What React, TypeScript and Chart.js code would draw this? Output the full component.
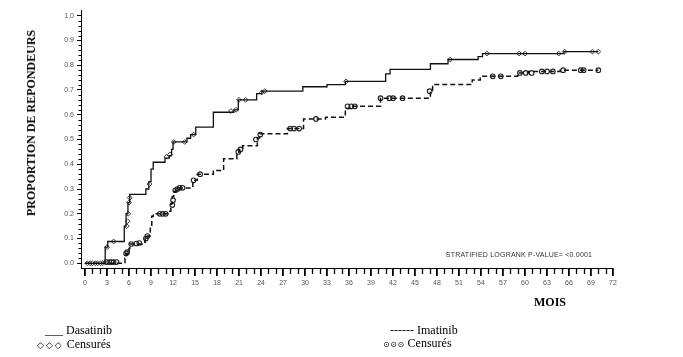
import React, { useEffect, useRef } from "react";
import { Chart, registerables } from "chart.js";

Chart.register(...registerables);

// ---- data ----
const xTicks = [0, 3, 6, 9, 12, 15, 18, 21, 24, 27, 30, 33, 36, 39, 42, 45, 48, 51, 54, 57, 60, 63, 66, 69, 72];
const yTicks = [0, 0.1, 0.2, 0.3, 0.4, 0.5, 0.6, 0.7, 0.8, 0.9, 1.0];

const dasatinibMonths = [0, 2.75, 3.1, 5.35, 5.6, 5.85, 6.1, 8.3, 8.7, 9.0, 9.3, 10.9, 11.5, 11.8, 12.0, 13.9, 14.4, 15.1, 17.5, 20.3, 20.9, 23.4, 24.1, 29.7, 33.0, 35.5, 41.0, 41.6, 47.1, 49.5, 53.6, 54.2, 65.3, 70.0];
const dasatinibValues = [0, 0.065, 0.088, 0.15, 0.2, 0.245, 0.278, 0.3, 0.33, 0.38, 0.408, 0.425, 0.435, 0.46, 0.49, 0.505, 0.52, 0.55, 0.61, 0.62, 0.66, 0.685, 0.695, 0.713, 0.722, 0.735, 0.765, 0.783, 0.806, 0.823, 0.835, 0.847, 0.855, 0.855];

const imatinibMonths = [0, 5.45, 5.6, 6.0, 6.1, 7.9, 8.2, 8.5, 8.9, 9.1, 9.3, 11.4, 11.7, 11.9, 12.1, 12.4, 14.7, 15.3, 17.5, 18.9, 20.7, 21.0, 21.5, 23.5, 23.8, 27.6, 29.8, 32.8, 35.5, 36.2, 40.3, 47.1, 47.4, 52.8, 53.9, 59.0, 60.5, 64.8, 70.0];
const imatinibValues = [0, 0.02, 0.04, 0.06, 0.078, 0.085, 0.1, 0.11, 0.15, 0.19, 0.2, 0.21, 0.24, 0.27, 0.29, 0.304, 0.335, 0.36, 0.375, 0.422, 0.448, 0.46, 0.475, 0.506, 0.523, 0.544, 0.583, 0.59, 0.625, 0.634, 0.667, 0.695, 0.722, 0.74, 0.755, 0.769, 0.775, 0.78, 0.78];

const dasatinibCensorMonths = [0.3, 0.7, 1.0, 1.4, 1.7, 2.1, 2.4, 3.0, 3.9, 5.7, 5.8, 5.9, 6.0, 6.1, 8.8, 11.1, 11.6, 12.1, 13.6, 14.8, 19.9, 20.6, 21.0, 21.9, 24.1, 24.5, 35.6, 49.8, 54.8, 59.2, 60.0, 64.6, 65.4, 69.2, 70.0];
const dasatinibCensorValues = [0, 0, 0, 0, 0, 0, 0, 0.065, 0.088, 0.15, 0.17, 0.2, 0.245, 0.265, 0.32, 0.43, 0.44, 0.49, 0.49, 0.52, 0.615, 0.62, 0.66, 0.66, 0.69, 0.695, 0.735, 0.823, 0.847, 0.847, 0.847, 0.847, 0.855, 0.855, 0.855];

const imatinibCensorMonths = [2.9, 3.3, 3.6, 3.9, 4.3, 5.6, 5.75, 6.3, 7.0, 7.4, 8.3, 8.5, 10.2, 10.6, 11.0, 11.9, 12.0, 12.3, 12.6, 12.9, 13.3, 14.8, 15.7, 20.9, 21.2, 23.3, 23.9, 28.0, 28.5, 29.2, 31.5, 35.8, 36.3, 36.8, 40.3, 41.5, 42.0, 43.3, 47.0, 55.6, 56.7, 59.3, 60.1, 60.9, 62.3, 63.0, 63.8, 65.2, 67.6, 68.0, 70.0];
const imatinibCensorValues = [0.005, 0.005, 0.005, 0.005, 0.005, 0.04, 0.045, 0.078, 0.08, 0.082, 0.1, 0.11, 0.2, 0.2, 0.2, 0.235, 0.255, 0.295, 0.3, 0.305, 0.305, 0.335, 0.36, 0.45, 0.46, 0.5, 0.52, 0.544, 0.544, 0.544, 0.583, 0.634, 0.634, 0.634, 0.667, 0.667, 0.667, 0.667, 0.695, 0.755, 0.755, 0.769, 0.769, 0.769, 0.775, 0.775, 0.775, 0.78, 0.78, 0.78, 0.78];

const zip = (xs: number[], ys: number[]) => xs.map((x, i) => ({ x, y: ys[i] }));

const minorTicksPlugin = {
  id: "minorTicks",
  afterDraw(chart: any) {
    const { ctx, chartArea } = chart;
    const xs = chart.scales.x;
    const ys = chart.scales.y;
    ctx.save();
    ctx.strokeStyle = "#000";
    ctx.lineWidth = 1.3;
    for (let m = 0; m <= 72; m++) {
      if (m % 3 === 0) continue;
      const px = Math.round(xs.getPixelForValue(m)) + 0.5;
      ctx.beginPath();
      ctx.moveTo(px, chartArea.bottom + 1);
      ctx.lineTo(px, chartArea.bottom + 6);
      ctx.stroke();
    }
    ctx.lineWidth = 1;
    for (let i = 0; i <= 50; i++) {
      if (i % 5 === 0) continue;
      const py = Math.round(ys.getPixelForValue(i * 0.02)) + 0.5;
      ctx.beginPath();
      ctx.moveTo(chartArea.left - 2.5, py);
      ctx.lineTo(chartArea.left, py);
      ctx.stroke();
    }
    ctx.restore();
  },
};

export default function App() {
  const ref = useRef<HTMLCanvasElement | null>(null);
  useEffect(() => {
    if (!ref.current) return;
    const chart = new Chart(ref.current, {
      type: "line",
      data: {
        datasets: [
          {
            label: "Dasatinib",
            data: zip(dasatinibMonths, dasatinibValues),
            stepped: "before",
            borderColor: "#111",
            borderWidth: 1.3,
            pointRadius: 0,
            fill: false,
          } as any,
          {
            label: "Imatinib",
            data: zip(imatinibMonths, imatinibValues),
            stepped: "before",
            borderColor: "#111",
            borderWidth: 1.5,
            borderDash: [5, 3],
            pointRadius: 0,
            fill: false,
          } as any,
          {
            type: "scatter",
            label: "Dasatinib censurés",
            data: zip(dasatinibCensorMonths, dasatinibCensorValues),
            showLine: false,
            pointStyle: "rectRot",
            pointRadius: 2.4,
            pointBorderWidth: 0.9,
            borderColor: "#222",
            backgroundColor: "rgba(255,255,255,0)",
          } as any,
          {
            type: "scatter",
            label: "Imatinib censurés",
            data: zip(imatinibCensorMonths, imatinibCensorValues),
            showLine: false,
            pointStyle: "circle",
            pointRadius: 2.3,
            pointBorderWidth: 1.1,
            borderColor: "#222",
            backgroundColor: "rgba(255,255,255,0)",
          } as any,
        ],
      },
      options: {
        responsive: false,
        animation: false,
        layout: { padding: { left: 0, top: 10, right: 70, bottom: 0 } },
        plugins: { legend: { display: false }, tooltip: { enabled: false } },
        scales: {
          x: {
            type: "linear",
            min: -0.55,
            max: 72,
            afterBuildTicks: (s: any) => {
              s.ticks = xTicks.map((v) => ({ value: v }));
            },
            afterFit: (s: any) => {
              s.height = 89;
            },
            grid: { display: true, drawOnChartArea: false, drawTicks: true, tickLength: 8, color: "#000", lineWidth: 1.8 },
            border: { display: true, color: "#000", width: 1 },
            ticks: {
              padding: 3,
              autoSkip: false,
              maxRotation: 0,
              color: "#555",
              font: { family: "Liberation Sans", size: 7 },
              callback: (v: any) => String(v),
            },
          },
          y: {
            type: "linear",
            min: -0.019,
            max: 1.023,
            afterBuildTicks: (s: any) => {
              s.ticks = yTicks.map((v) => ({ value: v }));
            },
            afterFit: (s: any) => {
              s.width = 81;
            },
            grid: { display: true, drawOnChartArea: false, drawTicks: true, tickLength: 4, color: "#000", lineWidth: 1 },
            border: { display: true, color: "#000", width: 1 },
            ticks: {
              padding: 3,
              autoSkip: false,
              color: "#555",
              font: { family: "Liberation Sans", size: 7 },
              callback: (v: any) => Number(v).toFixed(1),
            },
          },
        },
      },
      plugins: [minorTicksPlugin],
    } as any);
    return () => chart.destroy();
  }, []);

  const serif = '"Liberation Serif", "Times New Roman", serif';
  const abs = (left: number, top: number, extra: React.CSSProperties = {}): React.CSSProperties => ({
    position: "absolute",
    left,
    top,
    whiteSpace: "nowrap",
    fontFamily: serif,
    color: "#000",
    ...extra,
  });

  return (
    <div style={{ position: "absolute", left: 0, top: 0, width: 683, height: 357, background: "#fff", overflow: "hidden" }}>
      <canvas ref={ref} width={683} height={357} style={{ display: "block", position: "absolute", left: 0, top: 0 }} />
      <div
        style={abs(31, 122.5, {
          transform: "translate(-50%, -50%) rotate(-90deg)",
          fontWeight: "bold",
          fontSize: 12,
          lineHeight: "14px",
        })}
      >
        PROPORTION DE REPONDEURS
      </div>
      <div style={abs(550, 302, { transform: "translate(-50%, -50%)", fontWeight: "bold", fontSize: 12, lineHeight: "14px" })}>
        MOIS
      </div>
      <div
        style={abs(519, 255, {
          transform: "translate(-50%, -50%)",
          fontFamily: '"Liberation Sans", Arial, sans-serif',
          fontSize: 7,
          letterSpacing: 0.2,
          lineHeight: "8px",
          color: "#333",
        })}
      >
        STRATIFIED LOGRANK P-VALUE= &lt;0.0001
      </div>
      <div style={abs(45, 330, { transform: "translateY(-50%)", fontSize: 12, lineHeight: "14px" })}>___ Dasatinib</div>
      <div style={abs(37, 344, { transform: "translateY(-50%)", fontSize: 12, lineHeight: "14px" })}>
        <span style={{ fontFamily: '"DejaVu Sans", sans-serif', fontSize: 9, letterSpacing: 2 }}>◇◇◇</span> Censurés
      </div>
      <div style={abs(390, 330, { transform: "translateY(-50%)", fontSize: 12, lineHeight: "14px" })}>------ Imatinib</div>
      <div style={abs(383, 344, { transform: "translateY(-50%)", fontSize: 12, lineHeight: "14px" })}>
        <span style={{ fontFamily: '"DejaVu Sans", sans-serif', fontSize: 8, letterSpacing: 0.5 }}>⊙⊙⊙</span> Censurés
      </div>
    </div>
  );
}
